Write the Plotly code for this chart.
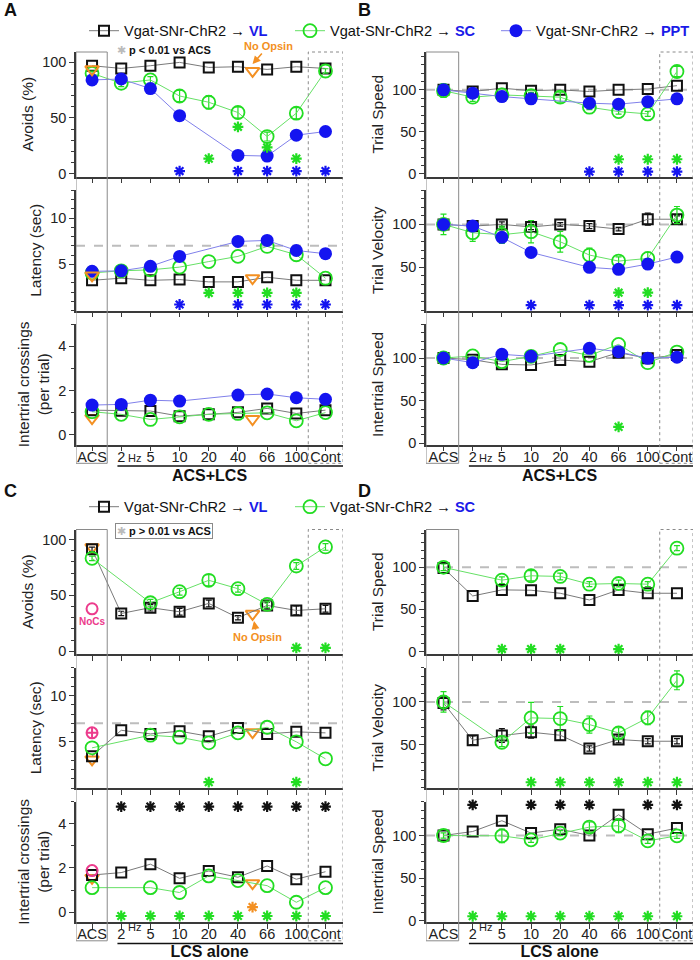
import plotly.graph_objects as go

FONT = "Arial, 'Liberation Sans', sans-serif"
W, H = 700, 960

# ---------------- data ----------------
categories = ["ACS", "2", "5", "10", "20", "40", "66", "100", "Cont"]
xpos = list(range(len(categories)))
no_opsin_x = [0, 5.5]

# Panel A (ACS+LCS)
A_avoid_VL = [96.7, 94.3, 96.7, 99.7, 95.2, 95.8, 93.4, 95.8, 94.3]
A_avoid_SC = [89.9, 81.0, 84.0, 69.6, 64.0, 54.8, 33.3, 54.2, 92.0]
A_avoid_SC_err = [2, 3, 3, 5, 6, 5, 4, 5, 2]
A_avoid_PPT = [84.0, 84.8, 76.2, 52.0, None, 16.4, 15.8, 34.5, 37.8]
A_avoid_NoOpsin = [93.5, 92.0]
A_lat_VL = [3.27, 3.5, 3.27, 3.35, 3.1, 3.1, 3.6, 3.27, 3.27]
A_lat_SC = [4.07, 4.3, 4.4, 4.7, 5.3, 5.86, 6.94, 6.04, 3.5]
A_lat_PPT = [4.24, 4.3, 4.78, 5.86, None, 7.48, 7.59, 6.5, 6.15]
A_lat_NoOpsin = [3.8, 3.5]
A_cross_VL = [1.11, 1.08, 1.07, 0.84, 0.92, 1.01, 1.19, 0.96, 1.11]
A_cross_SC = [1.04, 0.92, 0.69, 0.81, 0.92, 0.96, 0.99, 0.63, 1.0]
A_cross_PPT = [1.34, 1.37, 1.56, 1.52, None, 1.79, 1.84, 1.67, 1.6]
A_cross_NoOpsin = [0.75, 0.71]

# Panel B (ACS+LCS)
B_speed_VL = [100, 98, 102, 99, 100, 98, 100, 101, 105]
B_speed_SC = [99, 91.3, 94, 93, 91.3, 79.4, 74.2, 71.4, 121.8]
B_speed_SC_err = [8, 5, 4, 4, 6, 3, 3, 3, 6]
B_speed_PPT = [100, 96, 92, 89.3, None, 84.2, 83, 86, 89.3]
B_vel_VL = [100, 98, 100, 97, 100, 98, 94.5, 106, 106]
B_vel_VL_err = [2, 2, 3, 3, 2, 3, 2, 7, 4]
B_vel_SC = [100, 90.3, 88, 91.5, 79.8, 64.3, 57.3, 60.4, 110.8]
B_vel_SC_err = [12, 10, 10, 13, 12, 8, 5, 7, 10]
B_vel_PPT = [100, 98, 84.9, 67.4, None, 50, 47.7, 53.8, 62]
B_its_VL = [100, 98, 92.5, 91.8, 97.6, 95.7, 106.3, 99.6, 103.5]
B_its_SC = [100, 102.4, 95.7, 102, 110, 103, 116, 94.5, 107]
B_its_PPT = [100, 94.5, 104.3, 102, None, 111.4, 107.4, 99.6, 101]

# Panel C (LCS alone)
C_avoid_VL = [91.3, 33.8, 39, 35.3, 42.8, 30, 41, 36.5, 38]
C_avoid_VL_err = [2, 2, 3, 3, 3, 2, 3, 4, 3]
C_avoid_SC = [83.2, None, 43.4, 53.3, 63.5, 56, 41.9, 76.3, 93.4]
C_avoid_SC_err = [2, 0, 3, 3, 5, 3, 3, 3, 3]
C_avoid_NoOpsin = [93, 33.5]
C_avoid_NoCs = [38]
C_lat_VL = [3.45, 6.25, 5.86, 6.15, 5.6, 6.5, 5.86, 6.08, 5.97]
C_lat_SC = [4.35, None, 5.72, 5.5, 4.89, 5.97, 6.58, 5.0, 3.16]
C_lat_NoOpsin = [3.1, 6.04]
C_lat_NoCs = [5.97]
C_cross_VL = [1.68, 1.79, 2.17, 1.53, 1.86, 1.58, 2.09, 1.49, 1.83]
C_cross_SC = [1.11, None, 1.11, 0.89, 1.64, 1.43, 1.2, 0.45, 1.11]
C_cross_NoOpsin = [1.55, 1.31]
C_cross_NoCs = [1.88]

# Panel D (LCS alone)
D_speed_VL = [99.2, 66, 73.2, 72.8, 69.2, 61.2, 73.2, 69.2, 69.2]
D_speed_SC = [100, None, 84.8, 90, 89.2, 80, 80.8, 80, 122.8]
D_speed_SC_err = [4, 0, 4, 6, 4, 3, 4, 3, 3]
D_vel_VL = [98.8, 55.4, 60.8, 64.7, 61.2, 45.7, 56.2, 54.2, 54.2]
D_vel_VL_err = [8, 5, 8, 7, 6, 3, 4, 3, 3]
D_vel_SC = [100, None, 53, 81.4, 80.6, 73.6, 63.9, 81.4, 125.1]
D_vel_SC_err = [12, 0, 5, 18, 14, 10, 6, 8, 11]
D_its_VL = [100, 104.7, 117.4, 102.8, 107.5, 100, 124.5, 101.6, 108.7]
D_its_SC = [100, None, 99.6, 94.9, 102.8, 109.9, 111.5, 93.7, 99.6]
D_its_SC_err = [3, 0, 8, 3, 3, 6, 8, 3, 3]

# significance stars: (x positions, y positions)
A_avoid_stars_SC = ([4, 5, 6, 7], [13.5, 42, 23.5, 13.5])
A_avoid_stars_PPT = ([3, 5, 6, 7, 8], [2.4] * 5)
A_lat_stars_SC = ([4, 5, 6, 7], [1.9] * 4)
A_lat_stars_PPT = ([3, 5, 6, 7, 8], [0.65] * 5)
B_speed_stars_SC = ([6, 7, 8], [17.5] * 3)
B_speed_stars_PPT = ([5, 6, 7, 8], [2.8] * 4)
B_vel_stars_SC = ([6, 7], [20.5] * 2)
B_vel_stars_PPT = ([3, 5, 6, 7, 8], [6] * 5)
B_its_stars_SC = ([6], [19])
C_avoid_stars_SC = ([7, 8], [3, 3])
C_lat_stars_SC = ([4, 7], [0.64, 0.64])
C_cross_stars_VL = ([1, 2, 3, 4, 5, 6, 7, 8], [4.77] * 8)
C_cross_stars_SC = ([1, 2, 3, 4, 5, 6, 7, 8], [-0.17] * 8)
C_cross_stars_NoOpsin = ([5.5], [0.23])
D_speed_stars_SC = ([2, 3, 4, 6], [2.9] * 4)
D_vel_stars_SC = ([3, 4, 5, 6, 7, 8], [6.5] * 6)
D_its_stars_VL = ([1, 3, 4, 5, 7, 8], [136] * 6)
D_its_stars_SC = ([1, 2, 3, 4, 5, 6, 7, 8], [5] * 8)

# ---------------- styling ----------------
VL_LINE, VL_MK = "#7a7a7a", "#111111"
SC_LINE, SC_MK = "#66e066", "#22dd22"
PPT_LINE, PPT_MK = "#8080ea", "#1414f0"
ORANGE = "#f39022"
PINK = "#ec3b8c"
BLUE_TXT = "#1a1ae8"
AXC = "#3a3a3a"

STY = {
    "VL": dict(line=dict(color=VL_LINE, width=1),
               marker=dict(symbol="square-open", size=10, color=VL_MK, line=dict(width=2, color=VL_MK))),
    "SC": dict(line=dict(color=SC_LINE, width=1),
               marker=dict(symbol="circle-open", size=13, color=SC_MK, line=dict(width=1.8, color=SC_MK))),
    "PPT": dict(line=dict(color=PPT_LINE, width=1),
                marker=dict(symbol="circle", size=13, color=PPT_MK, line=dict(width=0))),
}
MKCOL = {"VL": VL_MK, "SC": SC_MK, "PPT": PPT_MK}


def py(p):
    return 1 - p / H


def ax_ref(n):
    return ("x" if n == 1 else f"x{n}"), ("y" if n == 1 else f"y{n}")


fig = go.Figure()


def series(n, y, kind, err=None, name=None, legend=None):
    xr, yr = ax_ref(n)
    tr = go.Scatter(x=xpos, y=y, xaxis=xr, yaxis=yr, mode="lines+markers",
                    connectgaps=True, hoverinfo="skip", cliponaxis=False,
                    line=STY[kind]["line"], marker=STY[kind]["marker"],
                    showlegend=name is not None)
    if name is not None:
        tr.name = name
        tr.legend = legend
    if err is not None:
        tr.error_y = dict(type="data", array=err, color=MKCOL[kind], thickness=1.2, width=3)
    fig.add_trace(tr)


def markers(n, x, y, symbol, color, size=12, width=2):
    xr, yr = ax_ref(n)
    fig.add_trace(go.Scatter(x=x, y=y, xaxis=xr, yaxis=yr, mode="markers", showlegend=False,
                             hoverinfo="skip", cliponaxis=False,
                             marker=dict(symbol=symbol, size=size, color=color,
                                         line=dict(width=width, color=color))))


def stars(n, st, color):
    markers(n, st[0], st[1], "asterisk-open", color, size=9, width=2.2)


def nm(target):
    return f"Vgat-SNr-ChR2 \u2192 <b><span style='color:{BLUE_TXT}'>{target}</span></b>"


# Panel A (axes 1,2,3)
series(1, A_avoid_VL, "VL", name=nm("VL"), legend="legend")
series(1, A_avoid_SC, "SC", err=A_avoid_SC_err, name=nm("SC"), legend="legend")
series(1, A_avoid_PPT, "PPT", name=nm("PPT"), legend="legend")
markers(1, no_opsin_x, A_avoid_NoOpsin, "triangle-down-open", ORANGE)
stars(1, A_avoid_stars_SC, SC_MK)
stars(1, A_avoid_stars_PPT, PPT_MK)
series(2, A_lat_VL, "VL")
series(2, A_lat_SC, "SC")
series(2, A_lat_PPT, "PPT")
markers(2, no_opsin_x, A_lat_NoOpsin, "triangle-down-open", ORANGE)
stars(2, A_lat_stars_SC, SC_MK)
stars(2, A_lat_stars_PPT, PPT_MK)
markers(3, no_opsin_x, A_cross_NoOpsin, "triangle-down-open", ORANGE)
series(3, A_cross_VL, "VL")
series(3, A_cross_SC, "SC")
series(3, A_cross_PPT, "PPT")

# Panel B (axes 4,5,6)
series(4, B_speed_VL, "VL")
series(4, B_speed_SC, "SC", err=B_speed_SC_err)
series(4, B_speed_PPT, "PPT")
stars(4, B_speed_stars_SC, SC_MK)
stars(4, B_speed_stars_PPT, PPT_MK)
series(5, B_vel_VL, "VL", err=B_vel_VL_err)
series(5, B_vel_SC, "SC", err=B_vel_SC_err)
series(5, B_vel_PPT, "PPT")
stars(5, B_vel_stars_SC, SC_MK)
stars(5, B_vel_stars_PPT, PPT_MK)
series(6, B_its_VL, "VL")
series(6, B_its_SC, "SC")
series(6, B_its_PPT, "PPT")
stars(6, B_its_stars_SC, SC_MK)

# Panel C (axes 7,8,9)
markers(7, no_opsin_x, C_avoid_NoOpsin, "triangle-down-open", ORANGE)
series(7, C_avoid_VL, "VL", err=C_avoid_VL_err, name=nm("VL"), legend="legend2")
series(7, C_avoid_SC, "SC", err=C_avoid_SC_err, name=nm("SC"), legend="legend2")
markers(7, [0], C_avoid_NoCs, "circle-open", PINK, size=11)
stars(7, C_avoid_stars_SC, SC_MK)
markers(8, no_opsin_x, C_lat_NoOpsin, "triangle-down-open", ORANGE)
series(8, C_lat_VL, "VL")
series(8, C_lat_SC, "SC")
markers(8, [0], C_lat_NoCs, "circle-cross-open", PINK, size=11)
stars(8, C_lat_stars_SC, SC_MK)
markers(9, no_opsin_x, C_cross_NoOpsin, "triangle-down-open", ORANGE)
series(9, C_cross_VL, "VL")
series(9, C_cross_SC, "SC")
markers(9, [0], C_cross_NoCs, "circle-open", PINK, size=11)
stars(9, C_cross_stars_VL, VL_MK)
stars(9, C_cross_stars_SC, SC_MK)
stars(9, C_cross_stars_NoOpsin, ORANGE)

# Panel D (axes 10,11,12)
series(10, D_speed_VL, "VL")
series(10, D_speed_SC, "SC", err=D_speed_SC_err)
stars(10, D_speed_stars_SC, SC_MK)
series(11, D_vel_VL, "VL", err=D_vel_VL_err)
series(11, D_vel_SC, "SC", err=D_vel_SC_err)
stars(11, D_vel_stars_SC, SC_MK)
series(12, D_its_VL, "VL")
series(12, D_its_SC, "SC", err=D_its_SC_err)
stars(12, D_its_stars_VL, VL_MK)
stars(12, D_its_stars_SC, SC_MK)

# ---------------- axes ----------------
ROWS = [(52, 176.5), (190, 310.5), (324, 444.7)]
HALF_OFF = [0, 477.5]
COLS = {"L": (76, 343, [-0.55, 8.6]), "R": (426, 693, [-0.6, 8.55])}
LEFT_ROWS = [
    dict(title="Avoids (%)", range=[-2.5, 109], tickvals=[0, 50, 100], minor=10),
    dict(title="Latency (sec)", range=[0, 13.05], tickvals=[5, 10], minor=1),
    dict(title="Intertrial crossings<br>(per trial)", range=[-0.45, 5.0], tickvals=[0, 2, 4], minor=1),
]
RIGHT_ROWS = [
    dict(title="Trial Speed", range=[-3, 145], tickvals=[0, 50, 100], minor=10),
    dict(title="Trial Velocity", range=[-0.2, 140], tickvals=[50, 100], minor=10),
    dict(title="Intertrial Speed", range=[-2, 140], tickvals=[0, 50, 100], minor=10),
]
PANELS = [("L", 0), ("R", 0), ("L", 1), ("R", 1)]
XTITLES = ["ACS+LCS", "LCS alone"]
NBSP_PAD = "\u00a0" * 9  # shifts the centred bottom title under the LCS bracket

layout = {}
for p, (col, half) in enumerate(PANELS):
    x0, x1, xr = COLS[col]
    rowspec = LEFT_ROWS if col == "L" else RIGHT_ROWS
    for r in range(3):
        n = p * 3 + r + 1
        top, bot = ROWS[r]
        off = HALF_OFF[half]
        spec = rowspec[r]
        xk = "xaxis" if n == 1 else f"xaxis{n}"
        yk = "yaxis" if n == 1 else f"yaxis{n}"
        xa = dict(domain=[x0 / W, x1 / W], range=xr, anchor=ax_ref(n)[1],
                  showline=True, linecolor=AXC, linewidth=1.5,
                  ticks="outside", ticklen=5, tickwidth=1.2, tickcolor=AXC,
                  tickvals=xpos, ticktext=categories, showticklabels=(r == 2),
                  tickangle=0, ticklabelstandoff=-7, automargin=False,
                  showgrid=False, zeroline=False, fixedrange=True,
                  tickfont=dict(size=14.5, color="#222", family=FONT))
        if r == 2:
            xa["title"] = dict(text=f"{NBSP_PAD}<b>{XTITLES[half]}</b>", standoff=6,
                               font=dict(size=16, color="#111", family=FONT))
        layout[xk] = xa
        layout[yk] = dict(domain=[py(bot + off), py(top + off)], range=spec["range"],
                          anchor=ax_ref(n)[0], showline=True, linecolor=AXC, linewidth=1.5,
                          ticks="outside", ticklen=5, tickwidth=1.2, tickcolor=AXC,
                          tickvals=spec["tickvals"], showgrid=False, zeroline=False,
                          fixedrange=True, automargin=False,
                          minor=dict(ticks="outside", ticklen=3, dtick=spec["minor"],
                                     tick0=0, tickcolor=AXC, tickwidth=1),
                          tickfont=dict(size=14.5, color="#222", family=FONT),
                          title=dict(text=spec["title"], standoff=5,
                                     font=dict(size=15.5, color="#222", family=FONT)))

shapes = []
annotations = []
for p, (col, half) in enumerate(PANELS):
    x0, x1, xr = COLS[col]
    off = HALF_OFF[half]
    nb = p * 3 + 3
    xref = ax_ref(nb)[0]
    # ACS box
    shapes.append(dict(type="rect", xref=xref, yref="paper", x0=xr[0], x1=0.52,
                       y0=py(463.3 + off), y1=py(52 + off),
                       line=dict(color="#8a8a8a", width=1)))
    # Cont box
    shapes.append(dict(type="rect", xref=xref, yref="paper", x0=7.41, x1=xr[1],
                       y0=py(463.3 + off), y1=py(52 + off),
                       line=dict(color="#8a8a8a", width=1, dash="dot")))
    # LCS bracket line
    shapes.append(dict(type="line", xref=xref, yref="paper", x0=0.87, x1=xr[1],
                       y0=py(466 + off), y1=py(466 + off),
                       line=dict(color="#111", width=1.5)))
    # Hz
    annotations.append(dict(xref=xref, yref="paper", x=1, y=py(457.5 + off), xshift=13,
                            text="Hz", showarrow=False,
                            font=dict(size=11, color="#222", family=FONT)))
    # reference dashed lines
    for r in range(3):
        n = p * 3 + r + 1
        xa, ya = ax_ref(n)
        yval = None
        if col == "R":
            yval = 100
        elif r == 1:
            yval = 7
        if yval is not None:
            shapes.append(dict(type="line", xref=xa, yref=ya, x0=xr[0], x1=xr[1],
                               y0=yval, y1=yval, layer="below",
                               line=dict(color="#bdbdbd", width=2, dash="dash")))

# panel letters
for letter, xp, yp in [("A", 2, 10), ("B", 356, 10), ("C", 2, 491), ("D", 356, 491)]:
    annotations.append(dict(xref="paper", yref="paper", x=xp / W, y=py(yp), xanchor="left",
                            yanchor="middle", text=f"<b>{letter}</b>", showarrow=False,
                            font=dict(size=18, color="#111", family=FONT)))

# significance key A
annotations.append(dict(xref="paper", yref="paper", x=115 / W, y=py(50), xanchor="left",
                        yanchor="middle", showarrow=False,
                        text="<span style='color:#bbbbbb'>\u2731</span> <b>p &lt; 0.01 vs ACS</b>",
                        font=dict(size=11, color="#111", family=FONT)))
# significance key C (boxed)
annotations.append(dict(xref="paper", yref="paper", x=115 / W, y=py(531), xanchor="left",
                        yanchor="middle", showarrow=False, bordercolor="#8a8a8a",
                        borderwidth=1, borderpad=1,
                        text="<span style='color:#bbbbbb'>\u2731</span> <b>p &gt; 0.01 vs ACS</b>",
                        font=dict(size=11, color="#111", family=FONT)))
# No Opsin labels
annotations.append(dict(xref="x", yref="y", x=5.5, y=98.2, ax=16, ay=-18,
                        text="<b>No Opsin</b>", showarrow=True, arrowhead=2, arrowsize=1,
                        arrowwidth=1.6, arrowcolor=ORANGE,
                        font=dict(size=11, color=ORANGE, family=FONT)))
annotations.append(dict(xref="x7", yref="y7", x=5.55, y=27, ax=3, ay=16,
                        text="<b>No Opsin</b>", showarrow=True, arrowhead=2, arrowsize=1,
                        arrowwidth=1.6, arrowcolor=ORANGE,
                        font=dict(size=11, color=ORANGE, family=FONT)))
annotations.append(dict(xref="x7", yref="y7", x=0, y=27, text="<b>NoCs</b>", showarrow=False,
                        font=dict(size=10, color=PINK, family=FONT)))

legend_common = dict(orientation="h", xanchor="left", yanchor="middle",
                     font=dict(size=14.6, color="#111", family=FONT), bgcolor="rgba(0,0,0,0)",
                     entrywidth=161, entrywidthmode="pixels", itemclick=False,
                     itemdoubleclick=False, tracegroupgap=0)

fig.update_layout(
    width=W, height=H, margin=dict(l=0, r=0, t=0, b=0, autoexpand=False),
    paper_bgcolor="white", plot_bgcolor="rgba(0,0,0,0)",
    font=dict(family=FONT, color="#222"),
    showlegend=True,
    legend=dict(x=84 / W, y=py(30.7), **legend_common),
    legend2=dict(x=84 / W, y=py(506.7), **legend_common),
    shapes=shapes, annotations=annotations,
    **layout,
)

fig.write_html(
    "out.html",
    config={"displayModeBar": False},
    post_script="document.body.style.margin='0px';document.body.style.overflow='hidden';",
)
